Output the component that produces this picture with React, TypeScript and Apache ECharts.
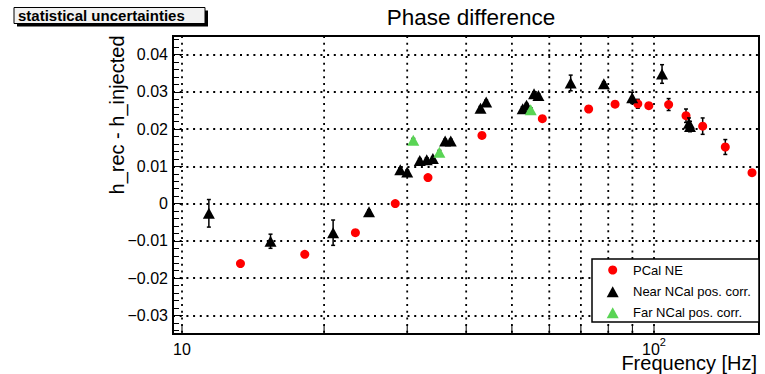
import React, { useEffect, useRef } from 'react';
import * as echarts from 'echarts';

// ---- data ----
const pcalFreq = [13.3, 18.2, 23.3, 28.3, 33.2, 43.2, 58.0, 72.7, 82.7, 92.4, 97.5, 107.4, 116.9, 126.8, 141.6, 161.3];
const pcalVal = [-0.0161, -0.0136, -0.0078, 0.0, 0.007, 0.0183, 0.0228, 0.0254, 0.0267, 0.0268, 0.0263, 0.0266, 0.0236, 0.0208, 0.0152, 0.0083];
const pcalErr = [0.0004, 0.0004, 0.0004, 0.0004, 0.0004, 0.0004, 0.0004, 0.0004, 0.0005, 0.0012, 0.0005, 0.0016, 0.0018, 0.0022, 0.002, 0.0005];

const nearFreq = [11.4, 15.4, 20.9, 24.9, 29.0, 30.0, 31.9, 33.0, 34.0, 36.1, 37.1, 42.9, 44.1, 52.7, 53.7, 55.7, 56.9, 66.6, 78.3, 89.9, 104.0, 118.6, 119.2];
const nearVal = [-0.0026, -0.0101, -0.0078, -0.0022, 0.0091, 0.0085, 0.0116, 0.0118, 0.0121, 0.0168, 0.0168, 0.0256, 0.0273, 0.0255, 0.0264, 0.0295, 0.029, 0.0324, 0.0322, 0.0284, 0.0348, 0.0216, 0.0207];
const nearErr = [0.0037, 0.0019, 0.0034, 0.0005, 0.0005, 0.0005, 0.0005, 0.0005, 0.0005, 0.0005, 0.0005, 0.0005, 0.0005, 0.0005, 0.0005, 0.0005, 0.0005, 0.0021, 0.0005, 0.0015, 0.0025, 0.0014, 0.0014];

const farFreq = [30.9, 35.1, 54.8];
const farVal = [0.017, 0.0138, 0.0252];
const farErr = [0.0005, 0.0005, 0.0005];

const xGridTicks = [10, 20, 30, 40, 50, 60, 70, 80, 90, 100];
const legendLabels = ['PCal NE', 'Near NCal pos. corr.', 'Far NCal pos. corr.'];

const X_MIN = 9.57;
const X_MAX = 166.9;
const Y_MIN = -0.035;
const Y_MAX = 0.045;

const FONT = "'Liberation Sans', Arial, Helvetica, sans-serif";
const RED = '#ff0000';
const GREEN = '#59d454';

const errData = (f: number[], v: number[], e: number[]) => f.map((x, i) => [x, v[i] - e[i], v[i] + e[i]]);
const ptData = (f: number[], v: number[]) => f.map((x, i) => [x, v[i]]);

const errorRender = (params: any, api: any) => {
  const x = api.value(0);
  const pLo = api.coord([x, api.value(1)]);
  const pHi = api.coord([x, api.value(2)]);
  const c = 2;
  const st = { stroke: '#000', lineWidth: 1.5 };
  return {
    type: 'group',
    children: [
      { type: 'line', shape: { x1: pLo[0], y1: pLo[1], x2: pHi[0], y2: pHi[1] }, style: st },
      { type: 'line', shape: { x1: pLo[0] - c, y1: pLo[1], x2: pLo[0] + c, y2: pLo[1] }, style: st },
      { type: 'line', shape: { x1: pHi[0] - c, y1: pHi[1], x2: pHi[0] + c, y2: pHi[1] }, style: st },
    ],
  };
};

const gridRender = (params: any, api: any) => {
  const x = api.value(0);
  const top = api.coord([x, Y_MAX]);
  const bot = api.coord([x, Y_MIN]);
  return {
    type: 'group',
    children: [
      { type: 'line', shape: { x1: top[0], y1: top[1], x2: bot[0], y2: bot[1] }, style: { stroke: '#000', lineWidth: 1.8, lineDash: [2, 4.7] } },
      { type: 'line', shape: { x1: bot[0], y1: bot[1], x2: bot[0], y2: bot[1] - 9 }, style: { stroke: '#000', lineWidth: 1 } },
    ],
  };
};

export default function App() {
  const ref = useRef<HTMLDivElement>(null);
  useEffect(() => {
    if (!ref.current) return;
    const chart = echarts.init(ref.current, null, { renderer: 'svg' });
    const legendX = 592, legendY = 259, rowY = [270, 291.7, 312.7], iconX = 612.7;
    chart.setOption({
      animation: false,
      backgroundColor: '#fff',
      title: {
        text: 'Phase difference',
        left: 466,
        top: 1,
        textAlign: 'center',
        textStyle: { fontFamily: FONT, fontSize: 22.5, fontWeight: 'normal', color: '#000' },
      },
      grid: { left: 173, right: 6, top: 36, bottom: 40, show: true, borderColor: '#000', borderWidth: 2, backgroundColor: 'transparent' },
      xAxis: {
        type: 'log',
        logBase: 10,
        min: X_MIN,
        max: X_MAX,
        axisLine: { show: true, onZero: false, lineStyle: { color: '#000', width: 2 } },
        axisTick: { show: false },
        splitLine: { show: false },
        minorTick: { show: false },
        axisLabel: {
          margin: 2,
          formatter: (v: number) => {
            if (Math.abs(v - 10) < 1e-6) return '{b|10}';
            if (Math.abs(v - 100) < 1e-6) return '{b|10}{s|2}';
            return '';
          },
          rich: {
            b: { fontFamily: FONT, fontSize: 16, color: '#000', lineHeight: 26 },
            s: { fontFamily: FONT, fontSize: 11, color: '#000', lineHeight: 11, verticalAlign: 'top' },
          },
        },
      },
      yAxis: {
        type: 'value',
        min: Y_MIN,
        max: Y_MAX,
        splitNumber: 8,
        axisLine: { show: true, onZero: false, lineStyle: { color: '#000', width: 2 } },
        axisTick: { show: true, inside: true, length: 10, lineStyle: { color: '#000', width: 1 } },
        minorTick: { show: true, splitNumber: 5, length: 6, lineStyle: { color: '#000', width: 1 } },
        splitLine: { show: true, lineStyle: { color: '#000', width: 1.8, type: [2, 4.7] } },
        axisLabel: {
          margin: 5,
          fontFamily: FONT,
          fontSize: 16,
          color: '#000',
          formatter: (v: number) => {
            const r = Math.round(v * 100);
            if (Math.abs(v * 100 - r) > 1e-6) return '';
            if (r === 0) return '0';
            return (r < 0 ? '\u2212' : '') + (Math.abs(r) / 100).toFixed(2);
          },
        },
      },
      series: [
        { type: 'custom', name: 'xgrid', renderItem: gridRender, data: xGridTicks.map((v) => [v, Y_MIN]), encode: { x: 0, y: 1 }, z: 1, silent: true },
        { type: 'custom', name: 'pcalErr', renderItem: errorRender, data: errData(pcalFreq, pcalVal, pcalErr), encode: { x: 0, y: [1, 2] }, z: 3 },
        { type: 'scatter', name: legendLabels[0], data: ptData(pcalFreq, pcalVal), symbol: 'circle', symbolSize: 9, itemStyle: { color: RED, opacity: 1 }, z: 4 },
        { type: 'custom', name: 'nearErr', renderItem: errorRender, data: errData(nearFreq, nearVal, nearErr), encode: { x: 0, y: [1, 2] }, z: 5 },
        { type: 'scatter', name: legendLabels[1], data: ptData(nearFreq, nearVal), symbol: 'triangle', symbolSize: [12, 11], itemStyle: { color: '#000', opacity: 1 }, z: 6 },
        { type: 'custom', name: 'farErr', renderItem: errorRender, data: errData(farFreq, farVal, farErr), encode: { x: 0, y: [1, 2] }, z: 7 },
        { type: 'scatter', name: legendLabels[2], data: ptData(farFreq, farVal), symbol: 'triangle', symbolSize: [12, 11], itemStyle: { color: GREEN, opacity: 1 }, z: 8 },
      ],
      graphic: [
        // statistical uncertainties box
        { type: 'rect', shape: { x: 17, y: 10.5, width: 191, height: 16 }, style: { fill: '#000' }, z: 10 },
        { type: 'rect', shape: { x: 14, y: 7.5, width: 191, height: 16 }, style: { fill: '#f2f2f2', stroke: '#000', lineWidth: 1 }, z: 11 },
        { type: 'text', x: 18, y: 15.5, style: { text: 'statistical uncertainties', font: `bold 15px ${FONT}`, fill: '#000', verticalAlign: 'middle' }, z: 12 },
        // axis titles
        { type: 'text', x: 117, y: 115, rotation: Math.PI / 2, style: { text: 'h_rec - h_injected', font: `20px ${FONT}`, fill: '#000', align: 'center', verticalAlign: 'middle' }, z: 12 },
        { type: 'text', x: 757, y: 363, style: { text: 'Frequency [Hz]', font: `20px ${FONT}`, fill: '#000', align: 'right', verticalAlign: 'middle' }, z: 12 },
        // legend
        { type: 'rect', shape: { x: legendX, y: legendY, width: 167, height: 63 }, style: { fill: '#fff', stroke: '#000', lineWidth: 1.5 }, z: 20 },
        { type: 'circle', shape: { cx: iconX, cy: rowY[0], r: 4.5 }, style: { fill: RED }, z: 21 },
        { type: 'polygon', shape: { points: [[iconX - 6, rowY[1] + 5.5], [iconX + 6, rowY[1] + 5.5], [iconX, rowY[1] - 5.5]] }, style: { fill: '#000' }, z: 21 },
        { type: 'polygon', shape: { points: [[iconX - 6, rowY[2] + 5.5], [iconX + 6, rowY[2] + 5.5], [iconX, rowY[2] - 5.5]] }, style: { fill: GREEN }, z: 21 },
        ...legendLabels.map((t, i) => ({ type: 'text', x: 633, y: rowY[i], style: { text: t, font: `13px ${FONT}`, fill: '#000', verticalAlign: 'middle' }, z: 21 })),
      ],
    });
    return () => chart.dispose();
  }, []);
  return <div ref={ref} style={{ position: 'absolute', left: 0, top: 0, width: 765, height: 374 }} />;
}
